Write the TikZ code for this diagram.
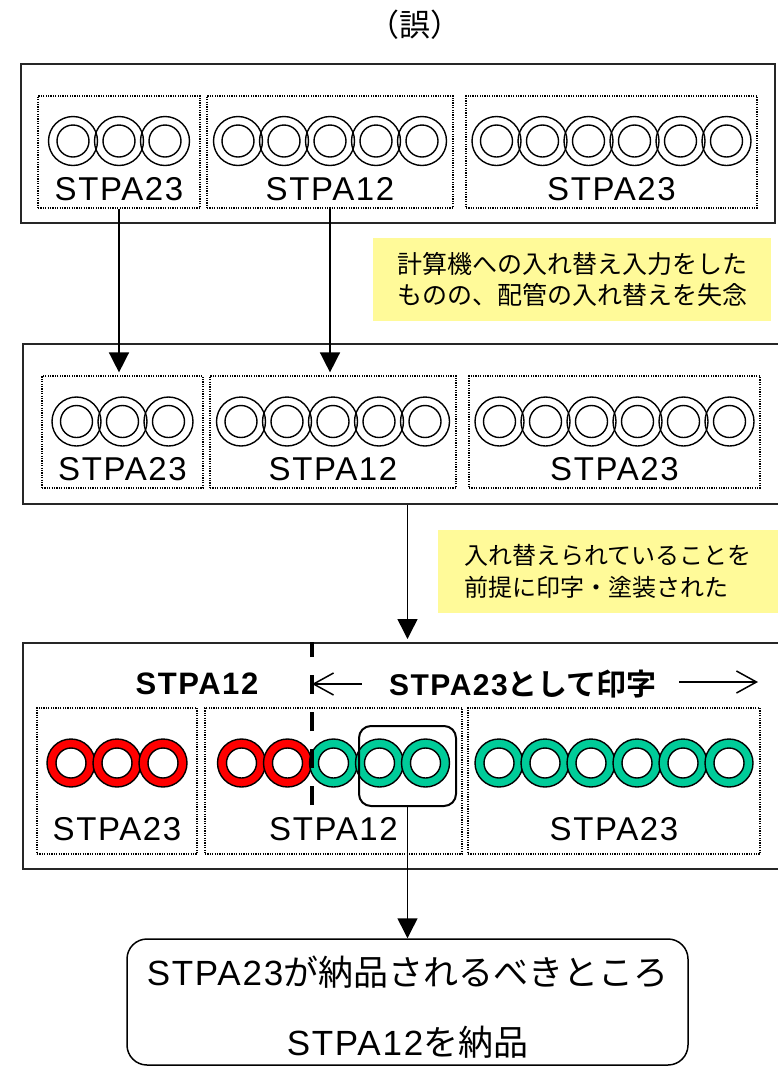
\documentclass[tikz,border=0pt]{standalone}
\usepackage{fontspec}
\setmainfont{Liberation Sans}[LetterSpace=5]
\newfontfamily\jpfont{Noto Sans CJK JP}[BoldFont={Noto Sans CJK JP Bold}]
\usetikzlibrary{arrows.meta,positioning}
\definecolor{lotred}{HTML}{FF0000}
\definecolor{lotgreen}{HTML}{00CC99}

\begin{document}
\begin{tikzpicture}[x=1pt,y=-1pt,
panel/.style  = {draw=black!85, line width=2pt, inner sep=0pt},
lot/.style    = {draw=black, line width=1.2pt, dash pattern=on 1.2pt off 1.2pt,
                 inner sep=0pt},
lbl/.style    = {font=\fontsize{33}{40}\selectfont, inner sep=0pt, anchor=base},
note/.style   = {fill=yellow!40, align=left, inner sep=0pt},
feed/.style   = {line width=1.5pt, -{Triangle[length=20pt,width=20pt]}},
spanarrow/.style = {line width=1.5pt, -{Straight Barb[length=20pt,width=22pt]}}
                        ]
\useasboundingbox (0,0) rectangle (777,1066);
\node (ttl) [font=\jpfont\fontsize{31}{36}\selectfont] at (415,25) {（誤）};

% before
\node (p1) [panel, minimum width=754pt, minimum height=159pt] at (398,143.5) {};
\foreach \nm/\cx/\w/\n/\lab in {a/119/162/3/STPA23, b/330/246/5/STPA12, c/611.5/291/6/STPA23}
{
\node (\nm1) [lot, minimum width=\w pt, minimum height=112pt] at (\cx,152) {};
\foreach \i in {1,...,\n}
    \draw[line width=1.4pt] (\cx+46*\i-23*\n-23,141) circle[radius=24.5pt] circle[radius=16pt];
\node (\nm1t) [lbl] at (\cx,200) {\lab};
}

%
\node (n1) [note, minimum width=398pt, minimum height=83pt,
            font=\jpfont\fontsize{25}{31}\selectfont] at (572,279.5)
      {計算機への入れ替え入力をした\\ものの、配管の入れ替えを失念};

% after input
\node (p2) [panel, minimum width=756pt, minimum height=160pt] at (401,424) {};
\foreach \nm/\cx/\w/\n/\lab in {a/122.5/161/3/STPA23, b/333/246/5/STPA12, c/614.5/291/6/STPA23}
{
\node (\nm2) [lot, minimum width=\w pt, minimum height=112pt] at (\cx,432) {};
\foreach \i in {1,...,\n}
    \draw[line width=1.4pt] (\cx+46*\i-23*\n-23,421.5) circle[radius=24.5pt] circle[radius=16pt];
\node (\nm2t) [lbl] at (\cx,480) {\lab};
}

\draw[feed] (a1.south) -- ([yshift=3pt]a1.south |- a2.north);
\draw[feed] (b1.south) -- ([yshift=3pt]b1.south |- b2.north);

%
\node (n2) [note, minimum width=340pt, minimum height=83pt,
            font=\jpfont\fontsize{24}{32}\selectfont] at (608,571.5)
      {入れ替えられていることを\\前提に印字・塗装された};

% printed
\node (p3) [panel, minimum width=756pt, minimum height=226pt] at (401,756) {};
\foreach \nm/\cx/\w/\n/\cols/\lab in {a/117/160/3/{lotred,lotred,lotred}/STPA23,
    b/333.5/257/5/{lotred,lotred,lotgreen,lotgreen,lotgreen}/STPA12,
    c/614/292/6/{lotgreen,lotgreen,lotgreen,lotgreen,lotgreen,lotgreen}/STPA23}
{
\node (\nm3) [lot, minimum width=\w pt, minimum height=146pt] at (\cx,781) {};
\foreach \col [count=\i] in \cols
    \filldraw[fill=\col, even odd rule, line width=1.4pt]
        (\cx+46*\i-23*\n-23,763) circle[radius=24pt] circle[radius=15pt];
\node (\nm3t) [lbl] at (\cx,840) {\lab};
}

\node (pick) [draw, line width=2pt, rounded corners=12pt,
              minimum width=97pt, minimum height=80pt] at (407.5,766) {};

\coordinate (cut) at (312,805);
\draw[line width=4pt, dash pattern=on 19pt off 18pt] (cut) -- (cut |- p3.north);

\node (hl) [font=\bfseries\fontsize{31}{36}\selectfont, inner sep=0pt] at (197,684) {STPA12};
\node (hr) [font=\bfseries\fontsize{30}{36}\selectfont, inner sep=0pt] at (523,684)
      {STPA23{\jpfont\bfseries として印字}};
\coordinate (edge) at (758,682);
\draw[spanarrow] ([xshift=-27pt]hr.west) -- (cut |- hr.west);
\draw[spanarrow] (edge -| hr.east) ++(22,0) -- (edge);

\draw[feed] (p2.south -| pick) -- ([yshift=3pt]p3.north -| pick);

% result
\node (res) [draw, line width=1.5pt, rounded corners=20pt,
             minimum width=561pt, minimum height=126pt, align=center,
             font=\fontsize{35}{70}\selectfont] at (407.5,1002)
      {\rule{0pt}{39pt}STPA23{\jpfont が納品されるべきところ}\\STPA12{\jpfont を納品}};
\draw[feed] (pick.south) -- (res.north -| pick);
\end{tikzpicture}
\end{document}
